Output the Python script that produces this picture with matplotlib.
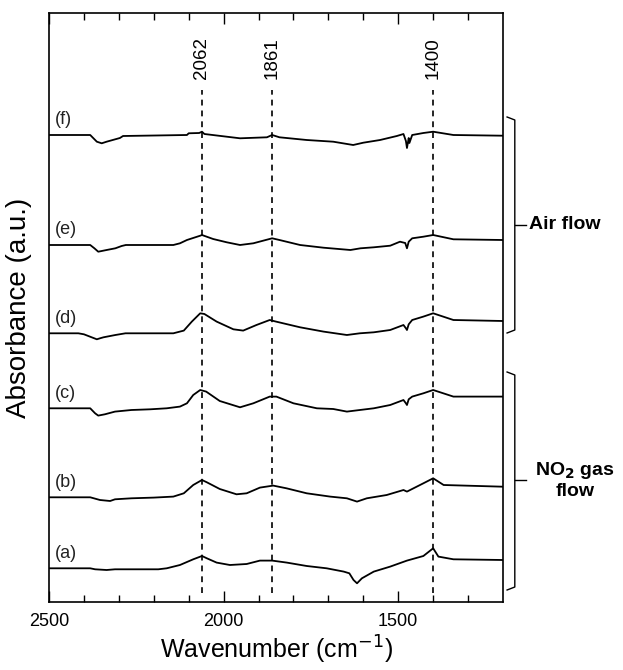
import matplotlib
matplotlib.use("Agg")
import matplotlib.pyplot as plt
import matplotlib.transforms as mtransforms

plt.rcParams['font.family'] = ['Liberation Sans', 'DejaVu Sans']

# spectra: wavenumber (cm-1) and absorbance relative to baseline
wn_a = [2500, 2382, 2368, 2335, 2311, 2187, 2163, 2125, 2087, 2062, 2048, 2020, 1982, 1934, 1896, 1861,
        1819, 1762, 1705, 1656, 1640, 1628, 1618, 1604, 1570, 1523, 1475, 1428, 1400, 1385, 1342, 1200]
ab_a = [0, 0, -0.01, -0.017, -0.01, -0.01, 0, 0.033, 0.09, 0.123, 0.1, 0.057, 0.033, 0.043, 0.077, 0.077,
        0.057, 0.023, 0, -0.033, -0.05, -0.117, -0.15, -0.1, -0.033, 0.017, 0.077, 0.123, 0.20, 0.117, 0.09, 0.083]

wn_b = [2500, 2382, 2354, 2325, 2311, 2264, 2200, 2144, 2114, 2087, 2062, 2048, 2011, 1963, 1934,
        1896, 1858, 1820, 1762, 1695, 1647, 1618, 1590, 1533, 1485, 1475, 1428, 1400, 1370, 1200]
ab_b = [0, 0, -0.027, -0.037, -0.02, -0.01, -0.003, 0.007, 0.04, 0.123, 0.173, 0.15, 0.083, 0.03, 0.04,
        0.097, 0.117, 0.09, 0.04, 0.007, -0.01, -0.043, -0.01, 0.023, 0.073, 0.057, 0.14, 0.19, 0.123, 0.106]

wn_c = [2500, 2382, 2368, 2359, 2340, 2311, 2264, 2210, 2163, 2125, 2105, 2087, 2067, 2050, 2011, 1953,
        1915, 1868, 1849, 1800, 1733, 1686, 1647, 1610, 1570, 1523, 1485, 1478, 1475, 1470, 1460, 1428,
        1400, 1342, 1200]
ab_c = [0, 0, -0.05, -0.073, -0.06, -0.033, -0.017, -0.01, 0, 0.017, 0.05, 0.133, 0.183, 0.167, 0.073, 0.01,
        0.05, 0.117, 0.117, 0.05, 0, -0.007, -0.033, -0.017, 0, 0.033, 0.083, 0.05, 0.033, 0.09, 0.117, 0.15,
        0.183, 0.117, 0.117]

wn_d = [2500, 2416, 2400, 2363, 2354, 2344, 2310, 2281, 2144, 2114, 2091, 2067, 2055, 2020, 1972, 1944,
        1906, 1868, 1850, 1781, 1714, 1647, 1610, 1570, 1523, 1485, 1478, 1475, 1470, 1460, 1428, 1400,
        1342, 1200]
ab_d = [0, 0, -0.01, -0.06, -0.05, -0.04, -0.017, 0, 0, 0.027, 0.117, 0.20, 0.193, 0.117, 0.04, 0.027,
        0.083, 0.133, 0.117, 0.06, 0.017, -0.017, 0, 0.01, 0.033, 0.083, 0.05, 0.033, 0.09, 0.133, 0.167, 0.20,
        0.133, 0.123]

wn_e = [2500, 2382, 2370, 2359, 2335, 2310, 2292, 2280, 2144, 2125, 2105, 2067, 2062, 2030, 1991, 1953,
        1915, 1861, 1840, 1781, 1714, 1637, 1608, 1570, 1523, 1495, 1480, 1475, 1470, 1460, 1428, 1400,
        1342, 1200]
ab_e = [0, 0, -0.033, -0.067, -0.05, -0.033, -0.01, 0, 0, 0.017, 0.05, 0.093, 0.10, 0.06, 0.027, 0,
        0.017, 0.067, 0.05, 0, -0.027, -0.05, -0.033, -0.023, -0.007, 0.033, 0.02, -0.033, 0.033, 0.067, 0.083, 0.10,
        0.057, 0.05]

wn_f = [2500, 2382, 2363, 2349, 2335, 2297, 2288, 2105, 2100, 2070, 2062, 2055, 1991, 1953, 1876, 1861,
        1840, 1762, 1686, 1629, 1600, 1552, 1504, 1485, 1478, 1475, 1470, 1468, 1460, 1428, 1400, 1342, 1200]
ab_f = [0, 0, -0.067, -0.083, -0.067, -0.03, -0.01, 0, 0.017, 0.02, 0.033, 0.01, -0.017, -0.033, -0.023, 0,
        -0.023, -0.05, -0.067, -0.10, -0.077, -0.05, -0.01, 0.01, -0.06, -0.13, -0.03, -0.08, 0, 0.02, 0.033, 0, -0.007]

labels = ['(a)', '(b)', '(c)', '(d)', '(e)', '(f)']
offsets = [0.337, 1.047, 1.937, 2.687, 3.57, 4.67]
peaks = [2062, 1861, 1400]

spectra = [(wn_a, ab_a), (wn_b, ab_b), (wn_c, ab_c), (wn_d, ab_d), (wn_e, ab_e), (wn_f, ab_f)]

fig = plt.figure(figsize=(6.23, 6.70), dpi=100)
ax = fig.add_axes([49 / 623, 68 / 670, 454 / 623, 589 / 670])

for (wn, ab), off, lab in zip(spectra, offsets, labels):
    ax.plot(wn, [v + off for v in ab], color='black', lw=1.3)
    ax.text(2483, off + 0.15, lab, fontsize=13, color='#222222', ha='left', va='center')

# marker lines for the band positions
ax.vlines(peaks, 0.09, 5.12, colors='black', linestyles=(0, (3.5, 3)), lw=1.2)
for p in peaks:
    ax.text(p, 5.44, str(p), rotation=90, ha='center', va='center', fontsize=13.5)

ax.set_xlim(2500, 1200)
ax.set_ylim(0, 5.89)
ax.set_xticks([2500, 2000, 1500])
ax.set_xticks(range(2400, 1200, -100), minor=True)
ax.tick_params(axis='x', which='both', direction='in', top=True, labelsize=13, pad=8)
ax.tick_params(axis='x', which='major', length=8, width=1)
ax.tick_params(axis='x', which='minor', length=5, width=1)
ax.set_yticks([])
for s in ax.spines.values():
    s.set_linewidth(1.2)

ax.set_xlabel('Wavenumber (cm$^{-1}$)', fontsize=18, labelpad=3)
ax.set_ylabel('Absorbance (a.u.)', fontsize=20, labelpad=12)

# brackets on the right side
tr = mtransforms.blended_transform_factory(ax.transAxes, ax.transData)
for top, bot, mid in [(4.85, 2.69, 3.77), (2.30, 0.12, 1.22)]:
    ax.plot([1.009, 1.026, 1.026, 1.009], [top, top - 0.03, bot + 0.03, bot],
            transform=tr, color='black', lw=1.0, clip_on=False)
    ax.plot([1.026, 1.05], [mid, mid], transform=tr, color='black', lw=1.0, clip_on=False)

ax.text(1.058, 3.77, 'Air flow', transform=tr, fontsize=14, fontweight='bold',
        ha='left', va='center')
ax.text(1.158, 1.22, 'NO$_\\mathbf{2}$ gas\nflow', transform=tr, fontsize=14, fontweight='bold',
        ha='center', va='center', multialignment='center', linespacing=1.2)

fig.savefig('out.png', dpi=100)
